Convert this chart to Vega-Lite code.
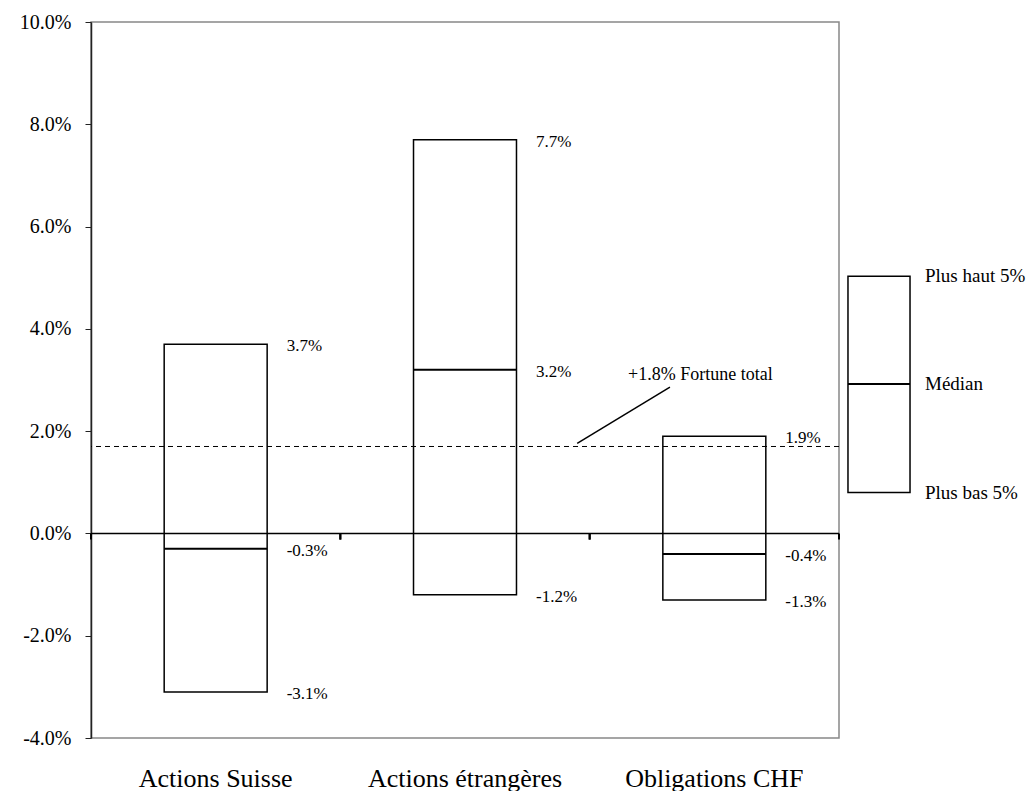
{
  "$schema": "https://vega.github.io/schema/vega-lite/v6.json",
  "padding": {"left": 18, "top": 11, "right": 0, "bottom": 0},
  "background": "white",
  "config": {
    "font": "Liberation Serif",
    "axis": {"labelFont": "Liberation Serif"},
    "text": {"font": "Liberation Serif"},
    "view": {"stroke": "#888888", "strokeWidth": 1.5},
    "locale": {"number": {"decimal": ".", "thousands": ",", "grouping": [3], "currency": ["$", ""], "minus": "-"}}
  },
  "datasets": {
    "boxes": [
      {"cat": "Actions Suisse", "low": -0.031, "median": -0.003, "high": 0.037},
      {"cat": "Actions étrangères", "low": -0.012, "median": 0.032, "high": 0.077},
      {"cat": "Obligations CHF", "low": -0.013, "median": -0.004, "high": 0.019}
    ],
    "leader": [
      {"ax": 1.95, "ay": 0.0176},
      {"ax": 2.322, "ay": 0.0286}
    ],
    "note": [
      {"ax": 2.154, "ay": 0.0309, "txt": "+1.8%  Fortune total"}
    ],
    "legendBox": [
      {"k": "légende", "low": 0.008, "median": 0.0292, "high": 0.0503}
    ],
    "legendLabels": [
      {"k": "légende", "label": "Plus haut 5%", "level": 0.0503},
      {"k": "légende", "label": "Médian", "level": 0.0292},
      {"k": "légende", "label": "Plus bas 5%", "level": 0.008}
    ]
  },
  "hconcat": [
    {
      "width": 748,
      "height": 716,
      "resolve": {"scale": {"x": "independent"}},
      "layer": [
        {
          "data": {"name": "boxes"},
          "mark": {"type": "bar", "fill": "white", "stroke": "black", "strokeWidth": 1.5, "width": {"band": 0.413}},
          "encoding": {
            "x": {"field": "cat", "type": "nominal", "sort": null, "scale": {"paddingInner": 0, "paddingOuter": 0},
              "axis": {"title": null, "domain": false, "ticks": false, "labelAngle": 0, "labelLimit": 400, "labelFont": "Liberation Serif", "labelFontSize": 26, "labelColor": "black", "labelPadding": 27}},
            "y": {"field": "low", "type": "quantitative", "scale": {"domain": [-0.04, 0.1], "nice": false, "zero": false},
              "axis": {"title": null, "format": ".1%", "values": [-0.04, -0.02, 0, 0.02, 0.04, 0.06, 0.08, 0.1], "grid": false,
                "domainColor": "#222222", "domainWidth": 1.5, "tickColor": "#222222", "tickSize": 6, "tickWidth": 1,
                "labelFont": "Liberation Serif", "labelFontSize": 20, "labelPadding": 14, "labelColor": "black"}},
            "y2": {"field": "high"}
          }
        },
        {
          "data": {"name": "boxes"},
          "mark": {"type": "tick", "color": "black", "thickness": 2, "size": 103, "opacity": 1},
          "encoding": {
            "x": {"field": "cat", "type": "nominal", "sort": null, "scale": {"paddingInner": 0, "paddingOuter": 0}, "axis": null},
            "y": {"field": "median", "type": "quantitative"}
          }
        },
        {
          "data": {"values": [{}]},
          "mark": {"type": "rule", "color": "black", "strokeWidth": 1.5},
          "encoding": {"y": {"datum": 0}}
        },
        {
          "data": {"values": [{}]},
          "mark": {"type": "rule", "color": "black", "strokeWidth": 1, "strokeDash": [5, 4]},
          "encoding": {"y": {"datum": 0.017}}
        },
        {
          "data": {"name": "boxes"},
          "mark": {"type": "rule", "color": "black", "strokeWidth": 2},
          "encoding": {
            "x": {"field": "cat", "type": "nominal", "sort": null, "bandPosition": 1, "scale": {"paddingInner": 0, "paddingOuter": 0}, "axis": null},
            "y": {"datum": 0},
            "y2": {"datum": -0.0012}
          }
        },
        {
          "data": {"name": "boxes"},
          "mark": {"type": "rule", "color": "black", "strokeWidth": 2},
          "encoding": {
            "x": {"field": "cat", "type": "nominal", "sort": null, "bandPosition": 0, "scale": {"paddingInner": 0, "paddingOuter": 0}, "axis": null},
            "y": {"datum": 0},
            "y2": {"datum": -0.0012}
          }
        },
        {
          "data": {"name": "boxes"},
          "transform": [{"fold": ["high", "median", "low"], "as": ["key", "value"]}],
          "mark": {"type": "text", "align": "left", "baseline": "middle", "dx": 71, "dy": 2, "fontSize": 17, "font": "Liberation Serif", "color": "black"},
          "encoding": {
            "x": {"field": "cat", "type": "nominal", "sort": null, "scale": {"paddingInner": 0, "paddingOuter": 0}, "axis": null},
            "y": {"field": "value", "type": "quantitative"},
            "text": {"field": "value", "type": "quantitative", "format": ".1%"}
          }
        },
        {
          "data": {"name": "leader"},
          "mark": {"type": "line", "color": "black", "strokeWidth": 1.5},
          "encoding": {
            "x": {"field": "ax", "type": "quantitative", "scale": {"domain": [0, 3], "nice": false, "zero": false}, "axis": null},
            "y": {"field": "ay", "type": "quantitative"}
          }
        },
        {
          "data": {"name": "note"},
          "mark": {"type": "text", "align": "left", "baseline": "middle", "fontSize": 18, "font": "Liberation Serif", "color": "black"},
          "encoding": {
            "x": {"field": "ax", "type": "quantitative", "scale": {"domain": [0, 3], "nice": false, "zero": false}, "axis": null},
            "y": {"field": "ay", "type": "quantitative"},
            "text": {"field": "txt"}
          }
        }
      ]
    },
    {
      "width": 180,
      "height": 716,
      "view": {"stroke": null},
      "layer": [
        {
          "data": {"name": "legendBox"},
          "mark": {"type": "bar", "fill": "white", "stroke": "black", "strokeWidth": 1.5, "width": {"band": 0.94}},
          "encoding": {
            "x": {"field": "k", "type": "nominal", "scale": {"range": [0, 66], "paddingInner": 0, "paddingOuter": 0}, "axis": null},
            "y": {"field": "low", "type": "quantitative", "scale": {"domain": [-0.04, 0.1], "nice": false, "zero": false}, "axis": null},
            "y2": {"field": "high"}
          }
        },
        {
          "data": {"name": "legendBox"},
          "mark": {"type": "tick", "color": "black", "thickness": 2, "size": 62, "opacity": 1},
          "encoding": {
            "x": {"field": "k", "type": "nominal", "scale": {"range": [0, 66], "paddingInner": 0, "paddingOuter": 0}, "axis": null},
            "y": {"field": "median", "type": "quantitative"}
          }
        },
        {
          "data": {"name": "legendLabels"},
          "mark": {"type": "text", "align": "left", "baseline": "middle", "dx": 46, "fontSize": 19, "font": "Liberation Serif", "color": "black"},
          "encoding": {
            "x": {"field": "k", "type": "nominal", "scale": {"range": [0, 66], "paddingInner": 0, "paddingOuter": 0}, "axis": null},
            "y": {"field": "level", "type": "quantitative"},
            "text": {"field": "label"}
          }
        }
      ]
    }
  ],
  "spacing": 5
}
